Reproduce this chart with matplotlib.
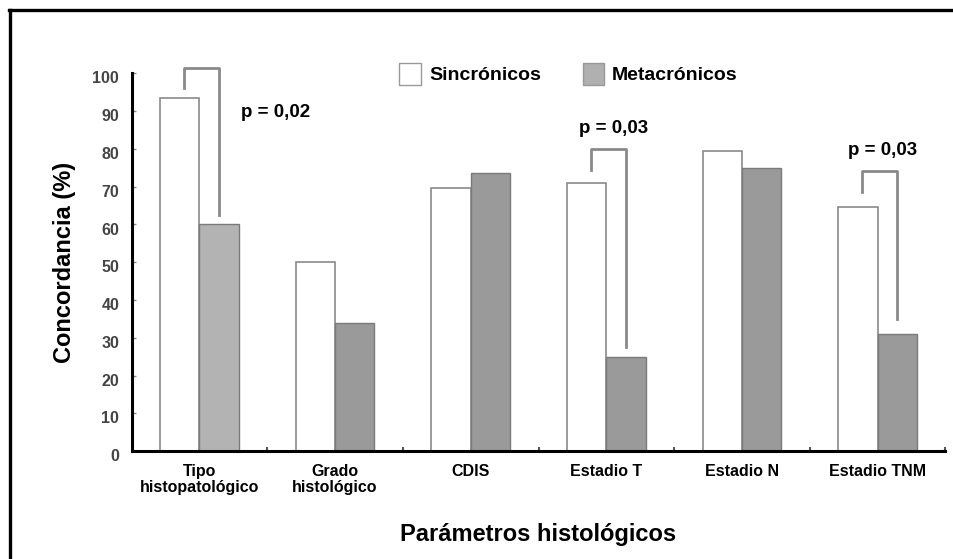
import matplotlib.pyplot as plt
from matplotlib.transforms import ScaledTranslation
import numpy as np

categories = ["Tipo\nhistopatológico", "Grado\nhistológico", "CDIS",
              "Estadio T", "Estadio N", "Estadio TNM"]
sincronicos = [93.5, 50, 69.5, 71, 79.5, 64.5]
metacronicos = [60, 34, 73.5, 25, 75, 31]
yticks = list(range(0, 101, 10))

# significance brackets: (category index, top, left leg end, right leg end, label, label x, label y)
brackets = [
    (0, 101.5, 96, 62.5, "p = 0,02", 0.56, 89.5),
    (3, 80, 74.5, 27.5, "p = 0,03", 3.05, 85.5),
    (5, 74, 68.5, 35, "p = 0,03", 5.04, 79.5),
]

plt.rcParams['font.family'] = ['Liberation Sans', 'DejaVu Sans']
plt.rcParams['font.weight'] = 'bold'

fig = plt.figure(figsize=(9.54, 5.59), dpi=100)
ax = fig.add_axes([0.138, 0.193, 0.853, 0.676])

x = np.arange(len(categories))
w = 0.29
gray_colors = ['#b3b3b3'] + ['#9a9a9a'] * 5
ax.bar(x - w / 2, sincronicos, w, color='white', edgecolor='#8a8a8a', linewidth=1.2)
ax.bar(x + w / 2, metacronicos, w, color=gray_colors, edgecolor='#7a7a7a', linewidth=1.0)

for idx, top, left_end, right_end, label, lx, ly in brackets:
    xl = idx - w / 2 + 0.03
    xr = idx + w / 2
    ax.plot([xl, xl, xr, xr], [left_end, top, top, right_end],
            color='#8a8a8a', linewidth=2, clip_on=False)
    ax.text(lx, ly, label, ha='center', va='center', fontsize=13.5, fontweight='bold')

ax.set_xlim(-0.5, 5.5)
ax.set_ylim(0, 100)
ax.set_xticks(x)
ax.set_xticklabels(categories, fontsize=11.5, fontweight='bold', linespacing=1.1)
ax.set_xticks(np.arange(0.5, 5.6, 1), minor=True)
ax.set_yticks(yticks)
ax.set_yticklabels([str(t) for t in yticks], fontsize=11.5, color='#444444', fontweight='bold')
ax.tick_params(axis='x', which='major', length=0, pad=9)
ax.tick_params(axis='x', which='minor', direction='in', length=3, width=1.5, color='#555555')
ax.tick_params(axis='y', direction='in', length=3, width=1, color='#888888', pad=9)

# y labels sit a little below their ticks in the original
for lbl in ax.get_yticklabels():
    lbl.set_transform(lbl.get_transform() + ScaledTranslation(0, -3 / 72, fig.dpi_scale_trans))

for side in ['top', 'right']:
    ax.spines[side].set_visible(False)
for side in ['left', 'bottom']:
    ax.spines[side].set_linewidth(2.2)
    ax.spines[side].set_color('black')

ax.set_ylabel('Concordancia (%)', fontsize=17, fontweight='bold', labelpad=12)
ax.set_xlabel('Parámetros histológicos', fontsize=17, fontweight='bold', labelpad=20)

# legend drawn as boxes and text in figure coordinates
fig.patches.append(plt.Rectangle((399 / 954, 1 - 85 / 559), 22 / 954, 22 / 559,
                                 transform=fig.transFigure, facecolor='white',
                                 edgecolor='#999999', linewidth=1))
fig.text(429 / 954, 1 - 75 / 559, 'Sincrónicos', fontsize=14, fontweight='bold', va='center')
fig.patches.append(plt.Rectangle((583 / 954, 1 - 85 / 559), 21 / 954, 22 / 559,
                                 transform=fig.transFigure, facecolor='#b0b0b0',
                                 edgecolor='#999999', linewidth=1))
fig.text(612 / 954, 1 - 75 / 559, 'Metacrónicos', fontsize=14, fontweight='bold', va='center')

# outer frame (top and left edges only)
fig.lines.append(plt.Line2D([10.5 / 954, 10.5 / 954], [0, 1 - 9.5 / 559],
                            transform=fig.transFigure, color='black', linewidth=2.4))
fig.lines.append(plt.Line2D([9.3 / 954, 1], [1 - 9.5 / 559, 1 - 9.5 / 559],
                            transform=fig.transFigure, color='black', linewidth=2.4))

fig.savefig('out.png', dpi=100)
